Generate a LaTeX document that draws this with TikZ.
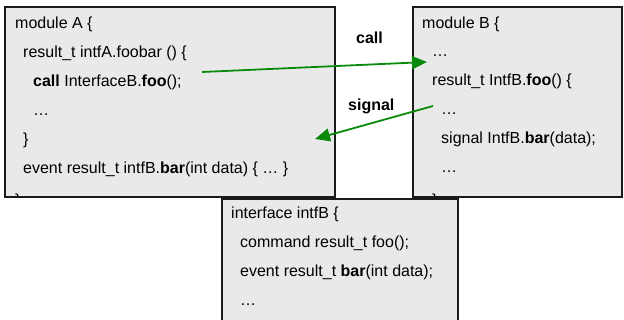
\documentclass[tikz,border=0pt]{standalone}
\usepackage{fontspec}
\setmainfont{Liberation Sans}
\usetikzlibrary{arrows.meta}
\definecolor{boxfill}{HTML}{E9E9E9}
\definecolor{boxline}{HTML}{1A1A1A}
\definecolor{flow}{HTML}{0A8A0A}

\begin{document}
\begin{tikzpicture}[x=1pt,y=-1pt,
  panel/.style={draw=boxline, line width=1.4pt, fill=boxfill, anchor=north west,
                inner sep=0pt, outer sep=0pt},
  code/.style={anchor=base west, inner sep=0pt, font=\fontsize{16}{19}\selectfont},
  lbl/.style={anchor=base west, inner sep=0pt, font=\fontsize{16}{19}\selectfont\bfseries},
  flowarrow/.style={draw=flow, line width=1.8pt, -{Triangle[length=15pt,width=13pt]}}]
\useasboundingbox (0,0) rectangle (624,320);
\clip (0,0) rectangle (624,320);

% the three code panels
\node[panel, minimum width=330pt, minimum height=190pt] (modA) at (5,7) {};
\node[panel, minimum width=209pt, minimum height=190pt] (modB) at (413,7) {};
\node[panel, minimum width=236pt, minimum height=140pt] (intf) at (222,199) {};

% module A
\node[code] (a1) at (15,29) {module A \{};
\node[code] (a2) at (23,58) {result\_t intfA.foobar () \{};
\node[code] (a3) at (33,87) {\textbf{call} InterfaceB.\textbf{foo}();};
\node[code] (a4) at (33,116) {…};
\node[code] (a5) at (23,145) {\}};
\node[code] (a6) at (23,174) {event result\_t intfB.\textbf{bar}(int data) \{ … \}};
\begin{scope}
  \clip ([shift={(0.7pt,0.7pt)}]modA.south west) rectangle ([shift={(-0.7pt,-0.7pt)}]modA.north east);
  \node[code] (a7) at (15,206) {\}};
\end{scope}

% module B
\node[code] (b1) at (422,29) {module B \{};
\node[code] (b2) at (432,57) {…};
\node[code] (b3) at (432,86) {result\_t IntfB.\textbf{foo}() \{};
\node[code] (b4) at (441,115) {…};
\node[code] (b5) at (441,144) {signal IntfB.\textbf{bar}(data);};
\node[code] (b6) at (441,173) {…};
\begin{scope}
  \clip ([shift={(0.7pt,0.7pt)}]modB.south west) rectangle ([shift={(-0.7pt,-0.7pt)}]modB.north east);
  \node[code] (b7) at (432,206) {\}};
\end{scope}

% interface
\node[code] (c1) at (231,219) {interface intfB \{};
\node[code] (c2) at (240,248) {command result\_t foo();};
\node[code] (c3) at (240,277) {event result\_t \textbf{bar}(int data);};
\node[code] (c4) at (240,306) {…};

% call / signal flow
\coordinate (callFrom) at (202,72);
\coordinate (callTo) at (427,62);
\coordinate (sigFrom) at (433,106);
\coordinate (sigTo) at (315,139);
\draw[flowarrow] (callFrom) -- (callTo);
\draw[flowarrow] (sigFrom) -- (sigTo);
\node[lbl] (callLbl) at (356,44) {call};
\node[lbl] (sigLbl) at (348,111) {signal};
\end{tikzpicture}
\end{document}
